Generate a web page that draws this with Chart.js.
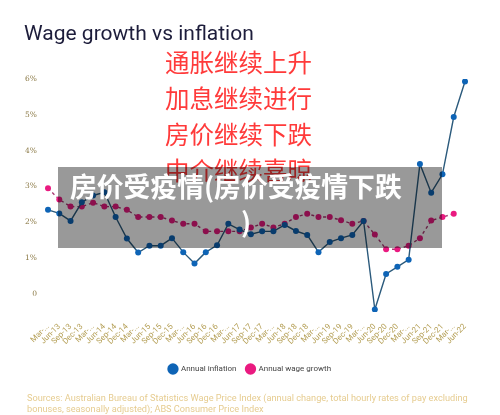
<!DOCTYPE html>
<html>
<head>
<meta charset="utf-8">
<script src="https://cdn.jsdelivr.net/npm/chart.js@4.4.1/dist/chart.umd.min.js"></script>
<style>
  html, body { margin: 0; padding: 0; background: #fff; }
  #wrap { position: relative; width: 500px; height: 415px; overflow: hidden; }
  #chart { position: absolute; left: 0; top: 0; }
  .title { position: absolute; left: 24px; top: 21px; font: 21px Roboto, sans-serif; color: #1d1d3b; white-space: nowrap; }
  .note { position: absolute; left: 165px; font: 24.5px "Noto Sans CJK SC", sans-serif; color: #ff3a3a; line-height: 1; white-space: nowrap; }
  .shade { position: absolute; left: 58px; top: 167px; width: 384px; height: 81px; background: rgba(0,0,0,0.4); }
  .caption { position: absolute; color: #fff; font: bold 26.8px "Noto Sans CJK SC", sans-serif; line-height: 1; white-space: nowrap; }
  .source { position: absolute; left: 27px; top: 392px; font: 9.2px Roboto, sans-serif; color: #e6cc90; line-height: 11px; white-space: nowrap; }
</style>
</head>
<body>
<div id="wrap">
  <canvas id="chart" width="500" height="415"></canvas>
  <div class="title">Wage growth vs inflation</div>
  <div class="note" style="top:50px">通胀继续上升</div>
  <div class="note" style="top:86px">加息继续进行</div>
  <div class="note" style="top:122px">房价继续下跌</div>
  <div class="note" style="top:158px">中介继续喜晾</div>
  <div class="shade"></div>
  <div class="caption" style="left:70px; top:173px">房价受疫情(房价受疫情下跌</div>
  <div class="caption" style="left:241px; top:208px">)</div>
  <div class="source">Sources: Australian Bureau of Statistics Wage Price Index (annual change, total hourly rates of pay excluding<br>bonuses, seasonally adjusted); ABS Consumer Price Index</div>
</div>
<script>
// quarters, Mar-13 .. Jun-22
const quarters = [
  'Mar-...', 'Jun-13', 'Sep-13', 'Dec-13',
  'Mar-...', 'Jun-14', 'Sep-14', 'Dec-14',
  'Mar-...', 'Jun-15', 'Sep-15', 'Dec-15',
  'Mar-...', 'Jun-16', 'Sep-16', 'Dec-16',
  'Mar-...', 'Jun-17', 'Sep-17', 'Dec-17',
  'Mar-...', 'Jun-18', 'Sep-18', 'Dec-18',
  'Mar-...', 'Jun-19', 'Sep-19', 'Dec-19',
  'Mar-...', 'Jun-20', 'Sep-20', 'Dec-20',
  'Mar-...', 'Jun-21', 'Sep-21', 'Dec-21',
  'Mar-...', 'Jun-22'
];

const inflation = [
  2.35, 2.25, 2.04, 2.56,
  2.75, 2.84, 2.15, 1.55,
  1.16, 1.35, 1.35, 1.56,
  1.17, 0.85, 1.17, 1.36,
  1.96, 1.8, 1.67, 1.75,
  1.75, 1.93, 1.76, 1.65,
  1.17, 1.45, 1.56, 1.65,
  2.04, -0.43, 0.56, 0.76,
  0.96, 3.63, 2.83, 3.34,
  4.94, 5.93
];

const wageGrowth = [
  2.95, 2.64, 2.44, 2.44,
  2.55, 2.44, 2.44, 2.35,
  2.15, 2.15, 2.15, 2.05,
  1.96, 1.96, 1.75, 1.75,
  1.75, 1.75, 1.86, 1.96,
  1.86, 1.96, 2.15, 2.24,
  2.15, 2.15, 2.06, 1.96,
  2.04, 1.66, 1.25, 1.25,
  1.35, 1.56, 2.05, 2.15,
  2.24, null
];

const yTicks = [0, 1, 2, 3, 4, 5, 6];

new Chart(document.getElementById('chart'), {
  type: 'line',
  data: {
    labels: quarters,
    datasets: [
      {
        label: 'Annual inflation',
        data: inflation,
        borderColor: '#2b5a7c',
        borderWidth: 1.4,
        pointBackgroundColor: '#0e64b6',
        pointBorderColor: '#0e64b6',
        pointRadius: 3,
        pointBorderWidth: 0,
        tension: 0
      },
      {
        label: 'Annual wage growth',
        data: wageGrowth,
        borderColor: '#a83a72',
        borderWidth: 1.4,
        borderDash: [3, 3],
        pointBackgroundColor: '#ea1a80',
        pointBorderColor: '#ea1a80',
        pointRadius: 3,
        pointBorderWidth: 0,
        tension: 0
      }
    ]
  },
  options: {
    responsive: false,
    animation: false,
    layout: { padding: { top: 79, right: 0, bottom: 32, left: 0 } },
    plugins: {
      title: { display: false },
      tooltip: { enabled: false },
      legend: {
        position: 'bottom',
        labels: {
          usePointStyle: true,
          pointStyle: 'circle',
          padding: 10,
          color: '#444',
          font: { family: 'Roboto', size: 8 }
        }
      }
    },
    scales: {
      x: {
        offset: false,
        grid: { display: false },
        border: { display: false },
        ticks: {
          autoSkip: false,
          minRotation: 45,
          maxRotation: 45,
          padding: 2,
          color: '#b39d52',
          font: { family: 'Roboto', size: 8 }
        },
        afterFit: s => { s.height = 43; }
      },
      y: {
        min: -0.5,
        max: 6,
        grid: { display: false },
        border: { display: false },
        afterBuildTicks: s => { s.ticks = yTicks.map(v => ({ value: v })); },
        ticks: {
          padding: 3,
          color: '#8a7844',
          font: { family: 'DejaVu Serif', size: 7.5 },
          callback: v => (v === 0 ? '0' : v + '%')
        },
        afterFit: s => { s.width = 48; }
      },
      // empty right gutter so the legend centres on the page
      gutter: {
        position: 'right',
        grid: { display: false },
        border: { display: false },
        ticks: { display: false },
        afterFit: s => { s.width = 35; }
      }
    }
  }
});
</script>
</body>
</html>
